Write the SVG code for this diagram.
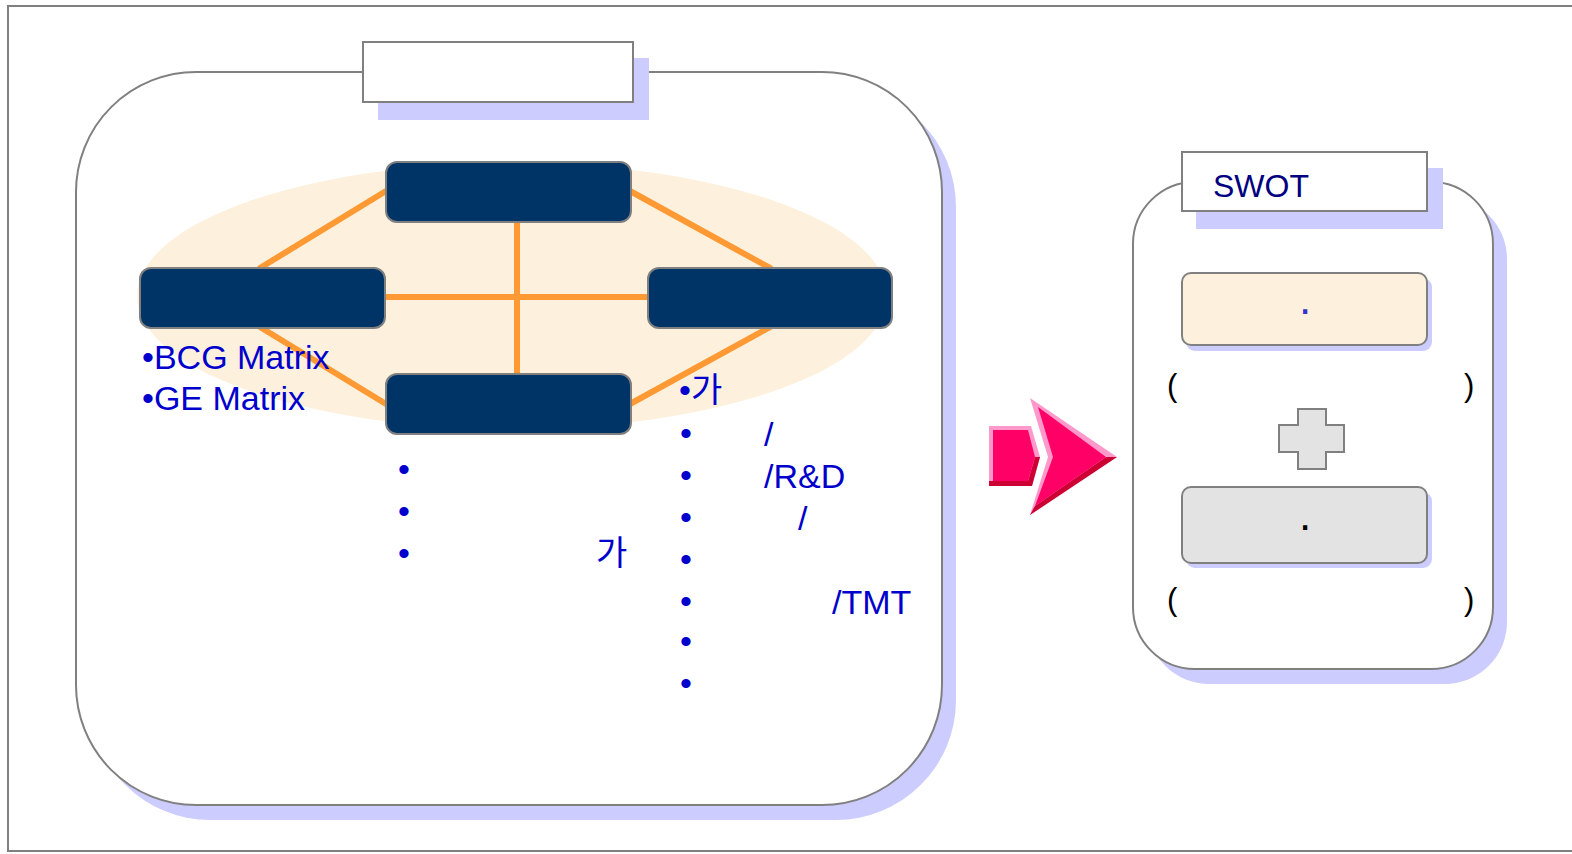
<svg xmlns="http://www.w3.org/2000/svg" width="1572" height="854" viewBox="0 0 1572 854">
  <style>
    .frame { fill: #ffffff; stroke: #808080; stroke-width: 2; }
    .panel { fill: #ffffff; stroke: #808080; stroke-width: 2; }
    .shadow { fill: #ccccff; stroke: none; }
    .node { fill: #003366; stroke: #808080; stroke-width: 2; }
    .link { stroke: #ff9933; stroke-width: 6; stroke-linecap: round; fill: none; }
    .txt { font-family: "Liberation Sans", Arial, "Noto Sans CJK KR", sans-serif; font-size: 34px; fill: #0000cc; }
    .swot { font-family: "Liberation Sans", Arial, sans-serif; font-size: 32px; fill: #000080; }
    .paren { font-family: "Liberation Sans", Arial, sans-serif; font-size: 31px; fill: #000000; }
  </style>

  <!-- outer frame (open on the right) -->
  <rect class="frame" x="8" y="6" width="1600" height="845"/>

  <!-- left panel -->
  <g id="left-panel">
    <rect class="shadow" x="90" y="87" width="866" height="733" rx="120" ry="120"/>
    <rect class="panel" x="76" y="72" width="866" height="733" rx="120" ry="120"/>
    <rect class="shadow" x="378" y="58" width="271" height="62"/>
    <rect class="panel" x="363" y="42" width="270" height="60"/>
    <ellipse cx="512" cy="296" rx="375" ry="133" fill="#fdf1de"/>
  </g>

  <!-- connectors -->
  <g id="connectors">
    <line class="link" x1="386" y1="191" x2="260" y2="268"/>
    <line class="link" x1="630" y1="191" x2="770" y2="268"/>
    <line class="link" x1="260" y1="327" x2="386" y2="404"/>
    <line class="link" x1="770" y1="327" x2="630" y2="404"/>
    <line class="link" x1="385" y1="297" x2="648" y2="297"/>
    <line class="link" x1="517" y1="221" x2="517" y2="374"/>
  </g>

  <g id="node-top"><rect class="node" x="386" y="162" width="245" height="60" rx="11"/></g>
  <g id="node-left"><rect class="node" x="140" y="268" width="245" height="60" rx="11"/></g>
  <g id="node-right"><rect class="node" x="648" y="268" width="244" height="60" rx="11"/></g>
  <g id="node-bottom"><rect class="node" x="386" y="374" width="245" height="60" rx="11"/></g>

  <!-- left panel texts -->
  <g id="left-notes">
    <text class="txt" x="142" y="369">•BCG Matrix</text>
    <text class="txt" x="142" y="410">•GE Matrix</text>
  </g>
  <g id="bottom-notes">
    <text class="txt" x="398" y="481">•</text>
    <text class="txt" x="398" y="523">•</text>
    <text class="txt" x="398" y="565">•</text>
    <text class="txt" x="596" y="565">가</text>
  </g>
  <g id="right-notes">
    <text class="txt" x="679" y="402">•가</text>
    <text class="txt" x="680" y="445">•</text>
    <text class="txt" x="764" y="446">/</text>
    <text class="txt" x="680" y="487">•</text>
    <text class="txt" x="764" y="488">/R&amp;D</text>
    <text class="txt" x="680" y="529">•</text>
    <text class="txt" x="798" y="530">/</text>
    <text class="txt" x="680" y="571">•</text>
    <text class="txt" x="680" y="613">•</text>
    <text class="txt" x="832" y="614">/TMT</text>
    <text class="txt" x="680" y="653">•</text>
    <text class="txt" x="680" y="695">•</text>
  </g>

  <!-- pink 3D arrow -->
  <g id="arrow">
    <polygon points="989,426 1031,426 1040,457 1032,486 989,486" fill="#ff99cc"/>
    <polygon points="989,486 1032,486 1040,457 1035,457 1028,481 989,481" fill="#cc0033"/>
    <polygon points="993,430 1028,430 1035,457 1028,481 993,481" fill="#ff0066"/>
    <polygon points="1030,398 1117,457 1030,515 1048,457" fill="#ff99cc"/>
    <polygon points="1117,457 1030,515 1035,506 1106,457" fill="#cc0033"/>
    <polygon points="1038,407 1106,457 1035,506 1053,457" fill="#ff0066"/>
  </g>

  <!-- right panel -->
  <g id="right-panel">
    <rect class="shadow" x="1147" y="197" width="360" height="487" rx="62" ry="62"/>
    <rect class="panel" x="1133" y="182" width="360" height="487" rx="62" ry="62"/>
  </g>
  <g id="swot-title">
    <rect class="shadow" x="1196" y="168" width="247" height="61"/>
    <rect class="panel" x="1182" y="152" width="245" height="59"/>
    <text class="swot" x="1213" y="197">SWOT</text>
  </g>
  <g id="box-upper">
    <rect class="shadow" x="1186" y="278" width="246" height="73" rx="9"/>
    <rect x="1182" y="273" width="245" height="72" rx="9" fill="#fdf1de" stroke="#808080" stroke-width="2"/>
    <text class="txt" x="1305" y="314" text-anchor="middle" style="fill:#3333cc;font-size:44px">.</text>
  </g>
  <g id="paren-upper">
    <text class="paren" x="1167" y="396">(</text>
    <text class="paren" x="1464" y="396">)</text>
  </g>
  <g id="plus">
    <polygon points="1298,409 1326,409 1326,425 1344,425 1344,452 1326,452 1326,469 1298,469 1298,452 1279,452 1279,425 1298,425" fill="#e3e3e3" stroke="#808080" stroke-width="2"/>
  </g>
  <g id="box-lower">
    <rect class="shadow" x="1186" y="492" width="246" height="76" rx="9"/>
    <rect x="1182" y="487" width="245" height="76" rx="9" fill="#e3e3e3" stroke="#808080" stroke-width="2"/>
    <text class="txt" x="1305" y="530" text-anchor="middle" style="fill:#000000;font-size:44px">.</text>
  </g>
  <g id="paren-lower">
    <text class="paren" x="1167" y="610">(</text>
    <text class="paren" x="1464" y="610">)</text>
  </g>
</svg>
